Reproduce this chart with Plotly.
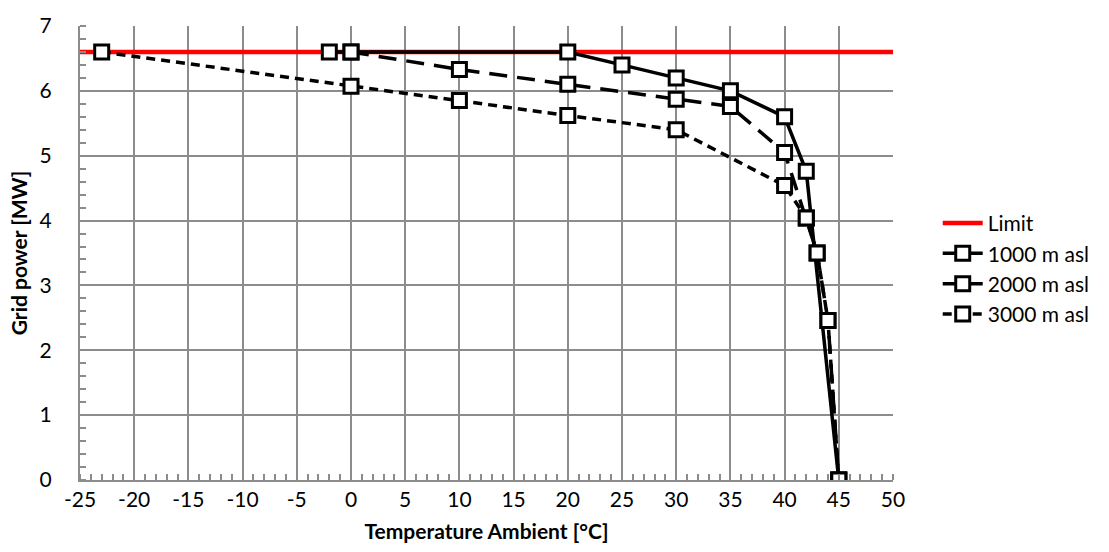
import plotly.graph_objects as go

limit_x = [-25, 50]
limit_y = [6.6, 6.6]

x_1000 = [-2, 0, 20, 25, 30, 35, 40, 42, 45]
y_1000 = [6.6, 6.6, 6.6, 6.4, 6.2, 6.0, 5.6, 4.76, 0.0]

x_2000 = [0, 10, 20, 30, 35, 40, 42, 43, 44, 45]
y_2000 = [6.6, 6.33, 6.1, 5.87, 5.76, 5.05, 4.04, 3.5, 2.46, 0.0]

x_3000 = [-23, 0, 10, 20, 30, 40, 42, 43, 44, 45]
y_3000 = [6.6, 6.07, 5.85, 5.62, 5.4, 4.54, 4.04, 3.5, 2.46, 0.0]

x_ticks = list(range(-25, 51, 5))
y_ticks = list(range(0, 8))

FONT = "Lato, 'Open Sans', sans-serif"
GRID = "#8c8c8c"

fig = go.Figure()
fig.add_trace(go.Scatter(x=limit_x, y=limit_y, mode="lines", name="Limit",
                         line=dict(color="#ff0000", width=4.5)))

mk = dict(symbol="square", size=14, color="white", line=dict(color="black", width=3))

fig.add_trace(go.Scatter(x=x_1000, y=y_1000, mode="lines+markers", name="1000 m asl",
                         line=dict(color="black", width=3.5), marker=mk))
fig.add_trace(go.Scatter(x=x_2000, y=y_2000, mode="lines+markers", name="2000 m asl",
                         line=dict(color="black", width=3.5, dash="18px,10px"), marker=mk))
fig.add_trace(go.Scatter(x=x_3000, y=y_3000, mode="lines+markers", name="3000 m asl",
                         line=dict(color="black", width=3.5, dash="9px,6px"), marker=mk))

fig.update_layout(
    width=1109, height=552,
    margin=dict(l=80, r=216, t=20, b=72),
    paper_bgcolor="white", plot_bgcolor="white",
    font=dict(family=FONT, size=21, color="black"),
    showlegend=True,
    legend=dict(x=1.055, xanchor="left", y=0.465, yanchor="middle",
                font=dict(family=FONT, size=21, color="black"),
                itemwidth=40, tracegroupgap=0, bgcolor="rgba(0,0,0,0)"),
    xaxis=dict(range=[-25, 50], tickvals=x_ticks, ticktext=[str(v) for v in x_ticks],
               showgrid=True, gridcolor=GRID, gridwidth=1.5, zeroline=False,
               showline=True, linecolor=GRID, linewidth=2, mirror=False,
               ticks="", ticklabelstandoff=0, automargin=False,
               minor=dict(dtick=1, ticks="inside", ticklen=6, tickcolor=GRID, tickwidth=1.5, showgrid=False),
               title=dict(text="<b>Temperature Ambient [°C]</b>", font=dict(family=FONT, size=21), standoff=14)),
    yaxis=dict(range=[0, 7], tickvals=y_ticks, ticktext=[str(v) for v in y_ticks],
               showgrid=True, gridcolor=GRID, gridwidth=1.5, zeroline=False,
               showline=True, linecolor=GRID, linewidth=2,
               ticks="", ticklabelstandoff=22,
               minor=dict(dtick=0.2, ticks="inside", ticklen=6, tickcolor=GRID, tickwidth=1.5, showgrid=False),
               title=dict(text="<b>Grid power [MW]</b>", font=dict(family=FONT, size=21), standoff=6)),
)

fig.write_html("out.html")
